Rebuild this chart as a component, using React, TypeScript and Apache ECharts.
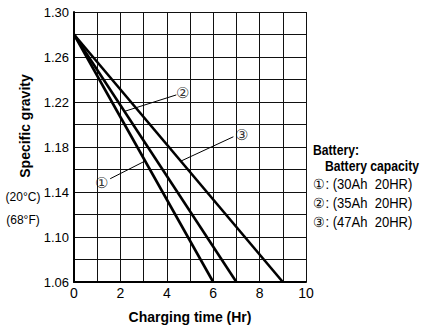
import React, { useEffect, useRef } from 'react';
import * as echarts from 'echarts';

// ---- data ----
const curveMarks = ['①', '②', '③'];
const capacities = ['(30Ah  20HR)', '(35Ah  20HR)', '(47Ah  20HR)'];
const startTime = 0;
const startGravity = 1.28;
const endTimes = [6, 7, 9];
const endGravity = 1.06;
// leader lines (from curve to label) and label anchors, in data units
const leaderFrom = [[3.05, 1.1674], [2.15, 1.2115], [4.6, 1.1674]];
const leaderTo = [[1.56, 1.1518], [4.41, 1.2263], [6.87, 1.1891]];
const markAt = [[1.2, 1.1486], [4.69, 1.2287], [7.21, 1.1911]];
const yMin = 1.06, yMax = 1.30, yStep = 0.02;
const xMin = 0, xMax = 10, xStep = 1;
const xAxisTitle = 'Charging time (Hr)';
const yAxisTitle = 'Specific gravity';
const yUnits = ['(20°C)', '(68°F)'];
const legendHead = ['Battery:', 'Battery capacity'];

const SANS = '"Liberation Sans", Arial, Helvetica, sans-serif';

export default function App() {
  const ref = useRef<HTMLDivElement>(null);
  useEffect(() => {
    if (!ref.current) return;
    const chart = echarts.init(ref.current, null, { renderer: 'svg' });
    const series: any[] = [];
    endTimes.forEach((t, i) => {
      series.push({
        type: 'line',
        data: [[startTime, startGravity], [t, endGravity]],
        showSymbol: false,
        symbol: 'none',
        lineStyle: { color: '#000', width: 2.6 },
        z: 5,
      });
      series.push({
        type: 'line',
        data: [leaderFrom[i], leaderTo[i]],
        showSymbol: false,
        symbol: 'none',
        lineStyle: { color: '#000', width: 1 },
        z: 5,
      });
    });
    series.push({
      type: 'scatter',
      symbolSize: 0,
      data: markAt.map((p, i) => ({ value: p, name: curveMarks[i] })),
      label: {
        show: true,
        position: 'inside',
        formatter: (p: any) => p.name,
        color: '#000',
        fontSize: 15,
        fontFamily: SANS,
      },
      z: 6,
    });

    const legendRows = curveMarks.map((m, i) => ({
      type: 'text',
      x: 313,
      y: 184 + i * 19,
      scaleX: 0.93,
      style: {
        text: `${m}: ${capacities[i]}`,
        fill: '#000',
        font: `14px ${SANS}`,
        align: 'left',
        verticalAlign: 'middle',
      },
    }));

    chart.setOption({
      animation: false,
      grid: { left: 74, right: 126, top: 12, bottom: 40 },
      xAxis: {
        type: 'value',
        min: xMin,
        max: xMax,
        interval: xStep,
        name: xAxisTitle,
        nameLocation: 'middle',
        nameGap: 28,
        nameTextStyle: { color: '#000', fontSize: 14, fontWeight: 'bold', fontFamily: SANS },
        axisLine: { show: true, lineStyle: { color: '#000', width: 2 } },
        axisTick: { show: false },
        axisLabel: {
          color: '#000',
          fontSize: 14,
          fontFamily: SANS,
          margin: 4,
          formatter: (v: number) => (Math.round(v) % 2 === 0 ? String(Math.round(v)) : ''),
        },
        splitLine: { show: true, lineStyle: { color: '#111', width: 1 } },
      },
      yAxis: {
        type: 'value',
        min: yMin,
        max: yMax,
        interval: yStep,
        axisLine: { show: true, lineStyle: { color: '#000', width: 2 } },
        axisTick: { show: false },
        axisLabel: {
          color: '#000',
          fontSize: 13,
          fontFamily: SANS,
          margin: 5,
          formatter: (v: number) => {
            const k = Math.round((v - yMin) / yStep);
            return k % 2 === 0 ? v.toFixed(2) : '';
          },
        },
        splitLine: { show: true, lineStyle: { color: '#111', width: 1 } },
      },
      graphic: [
        {
          type: 'text',
          x: 25,
          y: 126,
          rotation: Math.PI / 2,
          style: {
            text: yAxisTitle,
            fill: '#000',
            font: `bold 14px ${SANS}`,
            align: 'center',
            verticalAlign: 'middle',
          },
        },
        {
          type: 'text',
          x: 23,
          y: 197,
          style: { text: yUnits[0], fill: '#000', font: `12px ${SANS}`, align: 'center', verticalAlign: 'middle' },
        },
        {
          type: 'text',
          x: 23,
          y: 220,
          style: { text: yUnits[1], fill: '#000', font: `12px ${SANS}`, align: 'center', verticalAlign: 'middle' },
        },
        {
          type: 'text',
          x: 313,
          y: 150,
          scaleX: 0.87,
          style: { text: legendHead[0], fill: '#000', font: `bold 14px ${SANS}`, align: 'left', verticalAlign: 'middle' },
        },
        {
          type: 'text',
          x: 325,
          y: 166,
          scaleX: 0.87,
          style: { text: legendHead[1], fill: '#000', font: `bold 14px ${SANS}`, align: 'left', verticalAlign: 'middle' },
        },
        ...legendRows,
      ],
      series,
    });
    return () => chart.dispose();
  }, []);
  return <div ref={ref} style={{ position: 'absolute', left: 0, top: 0, width: 432, height: 329 }} />;
}
